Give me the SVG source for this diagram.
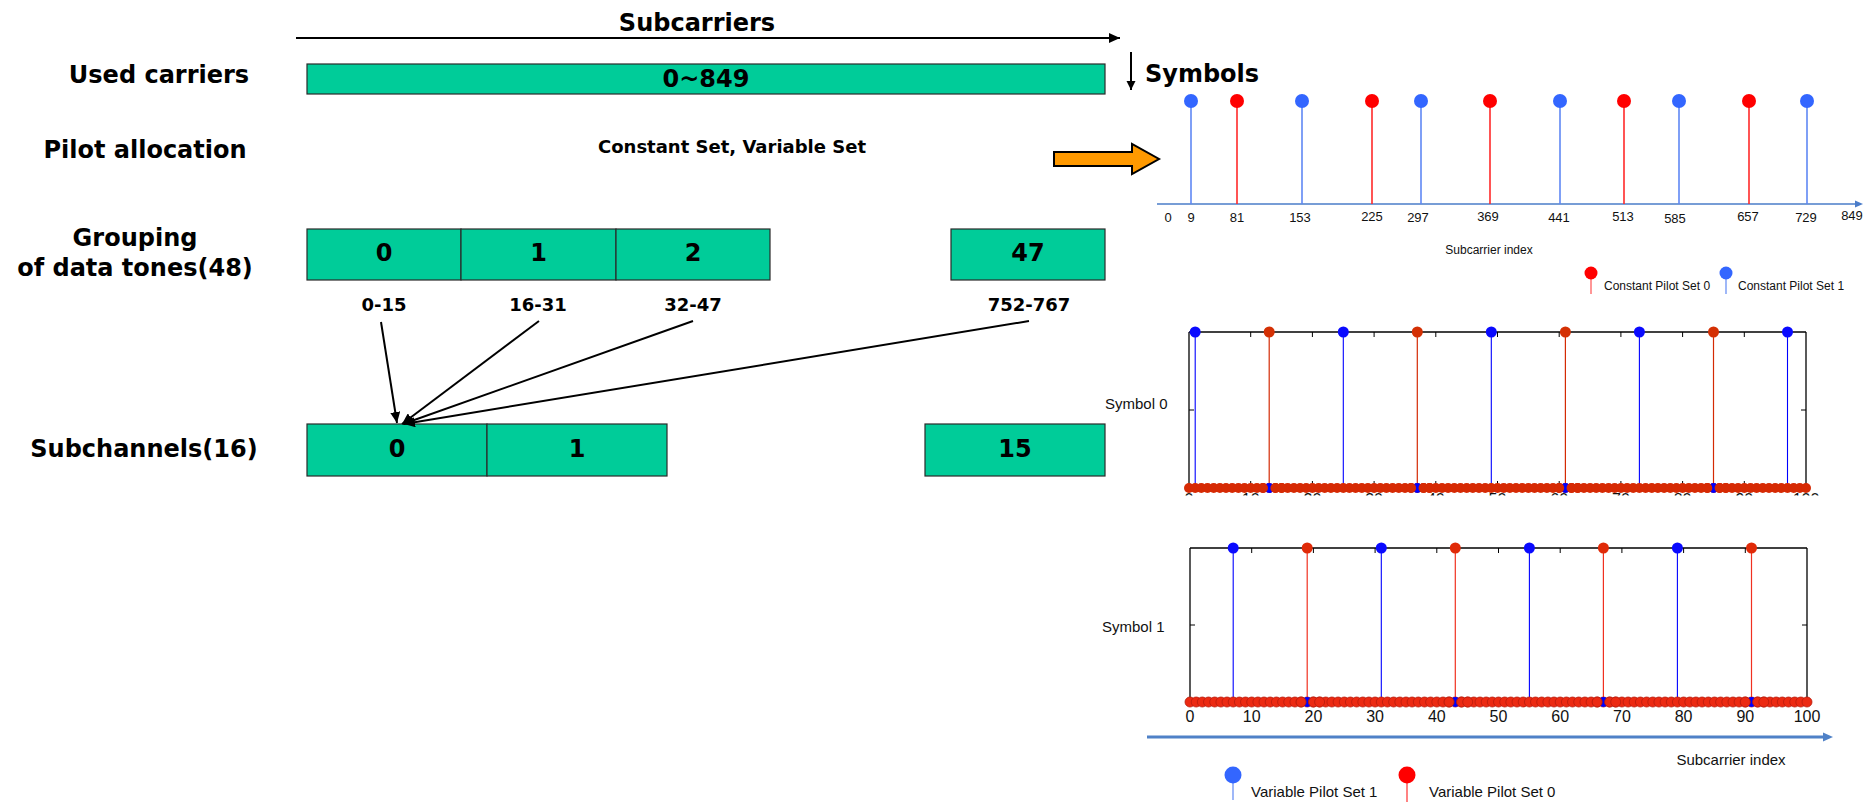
<svg xmlns="http://www.w3.org/2000/svg" xmlns:xlink="http://www.w3.org/1999/xlink" width="1876" height="802" viewBox="0 0 1876 802">
  <style>
    .lbl { font-family: "DejaVu Sans", Verdana, sans-serif; font-weight: bold; font-size: 24px; fill: #000; text-anchor: middle; }
    .num { font-family: "DejaVu Sans", Verdana, sans-serif; font-weight: bold; font-size: 24px; fill: #000; text-anchor: middle; }
    .rng { font-family: "DejaVu Sans", Verdana, sans-serif; font-weight: bold; font-size: 18px; fill: #000; text-anchor: middle; }
    .box { fill: #00CC99; stroke: #2a2a2a; stroke-width: 1.2; }
    .tk { font-family: "Liberation Sans", Arial, sans-serif; font-size: 13px; fill: #111; text-anchor: middle; }
    .ax { font-family: "Liberation Sans", Arial, sans-serif; font-size: 16px; fill: #111; text-anchor: middle; }
    .sm { font-family: "Liberation Sans", Arial, sans-serif; font-size: 12px; fill: #111; }
    .md { font-family: "Liberation Sans", Arial, sans-serif; font-size: 15px; fill: #111; }
    .frame { stroke: #000; stroke-width: 1.3; fill: none; }
    .tick { stroke: #000; stroke-width: 1; }
    .bstem { stroke: #0000ff; stroke-width: 1.1; }
    .rstem0 { stroke: #d42a04; stroke-width: 1.2; }
    .rstem1 { stroke: #f03020; stroke-width: 1.2; }
    .arw { stroke: #000; stroke-width: 2; fill: none; }
  </style>
  <defs>
    <marker id="headBlack" markerUnits="userSpaceOnUse" markerWidth="12" markerHeight="10" refX="11" refY="5" orient="auto">
      <path d="M0,0 L11,5 L0,10 Z" fill="#000"/>
    </marker>
    <marker id="headSmall" markerUnits="userSpaceOnUse" markerWidth="10" markerHeight="10" refX="9" refY="4.5" orient="auto">
      <path d="M0,0 L9,4.5 L0,9 Z" fill="#000"/>
    </marker>
    <!-- row of zero-value markers, one per subcarrier (0..100), spacing 6.17 px -->
    <g id="row">
      <circle cx="0" r="5"/><circle cx="6.2" r="5"/><circle cx="12.3" r="5"/><circle cx="18.5" r="5"/><circle cx="24.7" r="5"/><circle cx="30.9" r="5"/><circle cx="37" r="5"/><circle cx="43.2" r="5"/><circle cx="49.4" r="5"/><circle cx="55.5" r="5"/>
      <circle cx="61.7" r="5"/><circle cx="67.9" r="5"/><circle cx="74" r="5"/><circle cx="80.2" r="5"/><circle cx="86.4" r="5"/><circle cx="92.6" r="5"/><circle cx="98.7" r="5"/><circle cx="104.9" r="5"/><circle cx="111.1" r="5"/><circle cx="117.2" r="5"/>
      <circle cx="123.4" r="5"/><circle cx="129.6" r="5"/><circle cx="135.7" r="5"/><circle cx="141.9" r="5"/><circle cx="148.1" r="5"/><circle cx="154.3" r="5"/><circle cx="160.4" r="5"/><circle cx="166.6" r="5"/><circle cx="172.8" r="5"/><circle cx="178.9" r="5"/>
      <circle cx="185.1" r="5"/><circle cx="191.3" r="5"/><circle cx="197.4" r="5"/><circle cx="203.6" r="5"/><circle cx="209.8" r="5"/><circle cx="216" r="5"/><circle cx="222.1" r="5"/><circle cx="228.3" r="5"/><circle cx="234.5" r="5"/><circle cx="240.6" r="5"/>
      <circle cx="246.8" r="5"/><circle cx="253" r="5"/><circle cx="259.1" r="5"/><circle cx="265.3" r="5"/><circle cx="271.5" r="5"/><circle cx="277.7" r="5"/><circle cx="283.8" r="5"/><circle cx="290" r="5"/><circle cx="296.2" r="5"/><circle cx="302.3" r="5"/>
      <circle cx="308.5" r="5"/><circle cx="314.7" r="5"/><circle cx="320.8" r="5"/><circle cx="327" r="5"/><circle cx="333.2" r="5"/><circle cx="339.4" r="5"/><circle cx="345.5" r="5"/><circle cx="351.7" r="5"/><circle cx="357.9" r="5"/><circle cx="364" r="5"/>
      <circle cx="370.2" r="5"/><circle cx="376.4" r="5"/><circle cx="382.5" r="5"/><circle cx="388.7" r="5"/><circle cx="394.9" r="5"/><circle cx="401.1" r="5"/><circle cx="407.2" r="5"/><circle cx="413.4" r="5"/><circle cx="419.6" r="5"/><circle cx="425.7" r="5"/>
      <circle cx="431.9" r="5"/><circle cx="438.1" r="5"/><circle cx="444.2" r="5"/><circle cx="450.4" r="5"/><circle cx="456.6" r="5"/><circle cx="462.8" r="5"/><circle cx="468.9" r="5"/><circle cx="475.1" r="5"/><circle cx="481.3" r="5"/><circle cx="487.4" r="5"/>
      <circle cx="493.6" r="5"/><circle cx="499.8" r="5"/><circle cx="505.9" r="5"/><circle cx="512.1" r="5"/><circle cx="518.3" r="5"/><circle cx="524.5" r="5"/><circle cx="530.6" r="5"/><circle cx="536.8" r="5"/><circle cx="543" r="5"/><circle cx="549.1" r="5"/>
      <circle cx="555.3" r="5"/><circle cx="561.5" r="5"/><circle cx="567.6" r="5"/><circle cx="573.8" r="5"/><circle cx="580" r="5"/><circle cx="586.2" r="5"/><circle cx="592.3" r="5"/><circle cx="598.5" r="5"/><circle cx="604.7" r="5"/><circle cx="610.8" r="5"/>
      <circle cx="617" r="5"/>
    </g>
    <!-- x-axis tick labels shared by both symbol plots -->
    <g id="xlabels" class="ax">
      <text x="0">0</text><text x="61.7">10</text><text x="123.4">20</text><text x="185.1">30</text><text x="246.8">40</text><text x="308.5">50</text><text x="370.2">60</text><text x="431.9">70</text><text x="493.6">80</text><text x="555.3">90</text><text x="617">100</text>
    </g>
    <g id="ticks">
      <line class="tick" x1="61.7" y1="0" x2="61.7" y2="5"/><line class="tick" x1="123.4" y1="0" x2="123.4" y2="5"/><line class="tick" x1="185.1" y1="0" x2="185.1" y2="5"/><line class="tick" x1="246.8" y1="0" x2="246.8" y2="5"/><line class="tick" x1="308.5" y1="0" x2="308.5" y2="5"/><line class="tick" x1="370.2" y1="0" x2="370.2" y2="5"/><line class="tick" x1="431.9" y1="0" x2="431.9" y2="5"/><line class="tick" x1="493.6" y1="0" x2="493.6" y2="5"/><line class="tick" x1="555.3" y1="0" x2="555.3" y2="5"/>
    </g>
    <clipPath id="cut0" clipPathUnits="userSpaceOnUse">
      <rect x="-20" y="150" width="670" height="13.5"/>
    </clipPath>
  </defs>

  <rect width="1876" height="802" fill="#fff"/>

  <!-- row labels -->
  <g id="row-labels">
    <text class="lbl" x="159" y="83">Used carriers</text>
    <text class="lbl" x="145" y="158">Pilot allocation</text>
    <text class="lbl" x="135" y="246">Grouping</text>
    <text class="lbl" x="135" y="276">of data tones(48)</text>
    <text class="lbl" x="144" y="457">Subchannels(16)</text>
  </g>

  <g id="subcarriers-axis">
    <line class="arw" x1="296" y1="38" x2="1120" y2="38" stroke-width="2.5" marker-end="url(#headBlack)"/>
    <text class="lbl" x="697" y="31">Subcarriers</text>
  </g>

  <g id="used-carriers">
    <rect class="box" x="307" y="64" width="798" height="30"/>
    <text class="num" x="706" y="87" font-size="22">0~849</text>
  </g>

  <g id="pilot-allocation">
    <text class="rng" x="732" y="153">Constant Set, Variable Set</text>
  </g>

  <g id="group-0"><rect class="box" x="307" y="229" width="154" height="51"/><text class="num" x="384" y="261">0</text></g>
  <g id="group-1"><rect class="box" x="461" y="229" width="155" height="51"/><text class="num" x="538.5" y="261">1</text></g>
  <g id="group-2"><rect class="box" x="616" y="229" width="154" height="51"/><text class="num" x="693" y="261">2</text></g>
  <g id="group-47"><rect class="box" x="951" y="229" width="154" height="51"/><text class="num" x="1028" y="261">47</text></g>

  <g id="tone-ranges">
    <text class="rng" x="384" y="311">0-15</text>
    <text class="rng" x="538" y="311">16-31</text>
    <text class="rng" x="693" y="311">32-47</text>
    <text class="rng" x="1029" y="311">752-767</text>
  </g>

  <g id="sub-0"><rect class="box" x="307" y="424" width="180" height="52"/><text class="num" x="397" y="457">0</text></g>
  <g id="sub-1"><rect class="box" x="487" y="424" width="180" height="52"/><text class="num" x="577" y="457">1</text></g>
  <g id="sub-15"><rect class="box" x="925" y="424" width="180" height="52"/><text class="num" x="1015" y="457">15</text></g>

  <g id="connectors">
    <line class="arw" x1="381" y1="322" x2="397" y2="423" marker-end="url(#headBlack)"/>
    <line class="arw" x1="539" y1="321" x2="402" y2="424" marker-end="url(#headBlack)"/>
    <line class="arw" x1="693" y1="321" x2="403" y2="424" marker-end="url(#headBlack)"/>
    <line class="arw" x1="1029" y1="321" x2="404" y2="424" marker-end="url(#headBlack)"/>
  </g>

  <g id="symbols-axis">
    <line class="arw" x1="1131" y1="52" x2="1131" y2="90" stroke-width="2" marker-end="url(#headSmall)"/>
    <text class="lbl" x="1145" y="82" style="text-anchor:start" font-size="25">Symbols</text>
  </g>

  <g id="orange-arrow">
    <polygon points="1054,152 1132,152 1132,144 1159,159 1132,174 1132,166 1054,166" fill="#FF9900" stroke="#000" stroke-width="2" stroke-linejoin="miter"/>
  </g>

  <!-- constant pilot positions across the used carriers -->
  <g id="constant-pilots">
    <line x1="1157" y1="204" x2="1855" y2="204" stroke="#4a7cc9" stroke-width="1.5"/>
    <polygon points="1855,200.5 1863,204 1855,207.5" fill="#4a7cc9"/>
    <g stroke="#5f88f4" stroke-width="1.6">
      <line x1="1191" y1="101" x2="1191" y2="204"/>
      <line x1="1302" y1="101" x2="1302" y2="204"/>
      <line x1="1421" y1="101" x2="1421" y2="204"/>
      <line x1="1560" y1="101" x2="1560" y2="204"/>
      <line x1="1679" y1="101" x2="1679" y2="204"/>
      <line x1="1807" y1="101" x2="1807" y2="204"/>
    </g>
    <g stroke="#ff2a2a" stroke-width="1.6">
      <line x1="1237" y1="101" x2="1237" y2="204"/>
      <line x1="1372" y1="101" x2="1372" y2="204"/>
      <line x1="1490" y1="101" x2="1490" y2="204"/>
      <line x1="1624" y1="101" x2="1624" y2="204"/>
      <line x1="1749" y1="101" x2="1749" y2="204"/>
    </g>
    <g fill="#3366ff">
      <circle cx="1191" cy="101" r="7"/><circle cx="1302" cy="101" r="7"/><circle cx="1421" cy="101" r="7"/><circle cx="1560" cy="101" r="7"/><circle cx="1679" cy="101" r="7"/><circle cx="1807" cy="101" r="7"/>
    </g>
    <g fill="#ff0000">
      <circle cx="1237" cy="101" r="7"/><circle cx="1372" cy="101" r="7"/><circle cx="1490" cy="101" r="7"/><circle cx="1624" cy="101" r="7"/><circle cx="1749" cy="101" r="7"/>
    </g>
    <g class="tk">
      <text x="1168" y="222">0</text>
      <text x="1191" y="222">9</text>
      <text x="1237" y="222">81</text>
      <text x="1300" y="222">153</text>
      <text x="1372" y="220.5">225</text>
      <text x="1418" y="222">297</text>
      <text x="1488" y="220.5">369</text>
      <text x="1559" y="222">441</text>
      <text x="1623" y="220.5">513</text>
      <text x="1675" y="222.5">585</text>
      <text x="1748" y="220.5">657</text>
      <text x="1806" y="222">729</text>
      <text x="1852" y="220">849</text>
    </g>
    <text class="sm" x="1489" y="254" text-anchor="middle">Subcarrier index</text>
  </g>

  <g id="constant-legend">
    <line x1="1591" y1="278" x2="1591" y2="294" stroke="#ff5050" stroke-width="1.2"/>
    <circle cx="1591" cy="273" r="6.5" fill="#ff0000"/>
    <text class="sm" x="1604" y="290">Constant Pilot Set 0</text>
    <line x1="1726" y1="278" x2="1726" y2="294" stroke="#5f88f4" stroke-width="1.2"/>
    <circle cx="1726" cy="273" r="6.5" fill="#3366ff"/>
    <text class="sm" x="1738" y="290">Constant Pilot Set 1</text>
  </g>

  <!-- symbol 0: variable pilots -->
  <g id="symbol-0-plot" transform="translate(1189,332)">
    <g clip-path="url(#cut0)"><use xlink:href="#xlabels" href="#xlabels" y="173"/></g>
    <line class="frame" x1="0" y1="0" x2="617" y2="0"/>
    <line class="frame" x1="0" y1="0" x2="0" y2="156"/>
    <line class="frame" x1="617" y1="0" x2="617" y2="156"/>
    <line class="frame" x1="0" y1="156" x2="617" y2="156"/>
    <use xlink:href="#ticks" href="#ticks"/>
    <use xlink:href="#ticks" href="#ticks" transform="translate(0,156) scale(1,-1.4)"/>
    <line class="tick" x1="0" y1="78" x2="5" y2="78"/>
    <line class="tick" x1="612" y1="78" x2="617" y2="78"/>
    <g class="bstem"><line x1="6.2" y1="0" x2="6.2" y2="156"/><line x1="154.3" y1="0" x2="154.3" y2="156"/><line x1="302.3" y1="0" x2="302.3" y2="156"/><line x1="450.4" y1="0" x2="450.4" y2="156"/><line x1="598.5" y1="0" x2="598.5" y2="156"/></g>
    <g class="rstem0"><line x1="80.2" y1="0" x2="80.2" y2="156"/><line x1="228.3" y1="0" x2="228.3" y2="156"/><line x1="376.4" y1="0" x2="376.4" y2="156"/><line x1="524.5" y1="0" x2="524.5" y2="156"/></g>
    <g transform="translate(0,156)">
      <use xlink:href="#row" href="#row" fill="#d62a04"/>
      <g fill="#0000ff"><circle cx="80.2" r="5"/><circle cx="228.3" r="5"/><circle cx="376.4" r="5"/><circle cx="524.5" r="5"/></g>
      <g fill="#d62a04">
        <circle cx="74" r="5"/><circle cx="86.4" r="5"/><circle cx="92.6" r="5"/>
        <circle cx="222.1" r="5"/><circle cx="234.5" r="5"/><circle cx="240.6" r="5"/>
        <circle cx="370.2" r="5"/><circle cx="382.5" r="5"/><circle cx="388.7" r="5"/>
        <circle cx="518.3" r="5"/><circle cx="530.6" r="5"/><circle cx="536.8" r="5"/>
      </g>
    </g>
    <g fill="#0a0aff"><circle cx="6.2" cy="0" r="5.5"/><circle cx="154.3" cy="0" r="5.5"/><circle cx="302.3" cy="0" r="5.5"/><circle cx="450.4" cy="0" r="5.5"/><circle cx="598.5" cy="0" r="5.5"/></g>
    <g fill="#d43004"><circle cx="80.2" cy="0" r="5.5"/><circle cx="228.3" cy="0" r="5.5"/><circle cx="376.4" cy="0" r="5.5"/><circle cx="524.5" cy="0" r="5.5"/></g>
  </g>
  <text class="md" x="1105" y="409">Symbol 0</text>

  <!-- symbol 1: variable pilots -->
  <g id="symbol-1-plot" transform="translate(1190,548)">
    <line class="frame" x1="0" y1="0" x2="617" y2="0"/>
    <line class="frame" x1="0" y1="0" x2="0" y2="154"/>
    <line class="frame" x1="617" y1="0" x2="617" y2="154"/>
    <line class="frame" x1="0" y1="154" x2="617" y2="154"/>
    <use xlink:href="#ticks" href="#ticks"/>
    <line class="tick" x1="0" y1="77" x2="5" y2="77"/>
    <line class="tick" x1="612" y1="77" x2="617" y2="77"/>
    <g class="bstem"><line x1="43.2" y1="0" x2="43.2" y2="154"/><line x1="191.3" y1="0" x2="191.3" y2="154"/><line x1="339.4" y1="0" x2="339.4" y2="154"/><line x1="487.4" y1="0" x2="487.4" y2="154"/></g>
    <g class="rstem1"><line x1="117.2" y1="0" x2="117.2" y2="154"/><line x1="265.3" y1="0" x2="265.3" y2="154"/><line x1="413.4" y1="0" x2="413.4" y2="154"/><line x1="561.5" y1="0" x2="561.5" y2="154"/></g>
    <g transform="translate(0,154)">
      <use xlink:href="#row" href="#row" fill="#ec2a12" stroke="#b81c0c" stroke-width="0.8"/>
      <g fill="#0000ff"><circle cx="117.2" r="5"/><circle cx="265.3" r="5"/><circle cx="413.4" r="5"/><circle cx="561.5" r="5"/></g>
      <g fill="#ec2a12" stroke="#b81c0c" stroke-width="0.8">
        <circle cx="111.1" r="5"/><circle cx="123.4" r="5"/><circle cx="129.6" r="5"/>
        <circle cx="259.1" r="5"/><circle cx="271.5" r="5"/><circle cx="277.7" r="5"/>
        <circle cx="407.2" r="5"/><circle cx="419.6" r="5"/><circle cx="425.7" r="5"/>
        <circle cx="555.3" r="5"/><circle cx="567.6" r="5"/><circle cx="573.8" r="5"/>
      </g>
    </g>
    <g fill="#0a0aff"><circle cx="43.2" cy="0" r="5.5"/><circle cx="191.3" cy="0" r="5.5"/><circle cx="339.4" cy="0" r="5.5"/><circle cx="487.4" cy="0" r="5.5"/></g>
    <g fill="#e02a08"><circle cx="117.2" cy="0" r="5.5"/><circle cx="265.3" cy="0" r="5.5"/><circle cx="413.4" cy="0" r="5.5"/><circle cx="561.5" cy="0" r="5.5"/></g>
    <use xlink:href="#xlabels" href="#xlabels" y="174"/>
  </g>
  <text class="md" x="1102" y="632">Symbol 1</text>

  <g id="subcarrier-axis-bottom">
    <line x1="1147" y1="737" x2="1824" y2="737" stroke="#4f81c7" stroke-width="3"/>
    <polygon points="1823,732.5 1833,737 1823,741.5" fill="#4f81c7"/>
    <text class="md" x="1731" y="765" text-anchor="middle">Subcarrier index</text>
  </g>

  <g id="variable-legend">
    <line x1="1233" y1="782" x2="1233" y2="800" stroke="#5f88f4" stroke-width="1.2"/>
    <circle cx="1233" cy="775" r="8.5" fill="#3366ff"/>
    <text class="md" x="1251" y="797">Variable Pilot Set 1</text>
    <line x1="1407" y1="782" x2="1407" y2="802" stroke="#ff3030" stroke-width="1.2"/>
    <circle cx="1407" cy="775" r="8.5" fill="#ff0000"/>
    <text class="md" x="1429" y="797">Variable Pilot Set 0</text>
  </g>
</svg>
